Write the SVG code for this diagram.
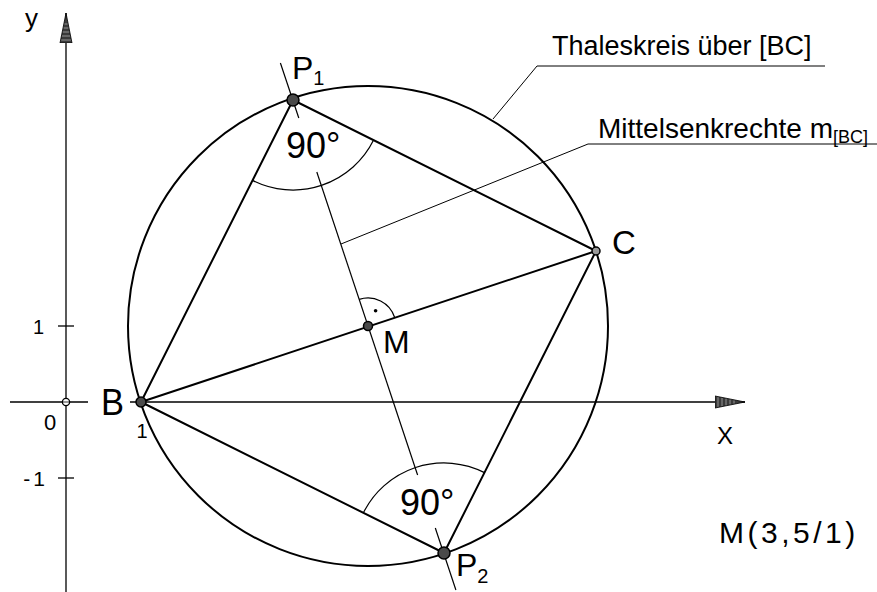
<svg xmlns="http://www.w3.org/2000/svg" width="877" height="592" viewBox="0 0 877 592">
<defs>
<style>
text{font-family:"Liberation Sans",Arial,sans-serif;fill:#000}
.thick{stroke:#000;stroke-width:2;fill:none;stroke-linecap:round}
.thin{stroke:#000;stroke-width:1.2;fill:none}
.axis{stroke:#000;stroke-width:1.3;fill:none}
.lead{stroke:#000;stroke-width:1;fill:none}
.pt{fill:#4a4a4a;stroke:#000;stroke-width:1.5}
.hp{fill:#fff;stroke:#000;stroke-width:1.3}
</style>
<marker id="arr" markerUnits="userSpaceOnUse" markerWidth="32" markerHeight="14" refX="30" refY="7" orient="auto" viewBox="0 0 32 14">
<path d="M0,1 L30,7 L0,13 Z" fill="#3a3a3a" stroke="#000" stroke-width="0.8"/>
<path d="M3,2.2V11.8M7,3V11M11,3.8V10.2M15,4.6V9.4M19,5.4V8.6" stroke="#bbb" stroke-width="0.7"/>
</marker>
</defs>
<rect width="877" height="592" fill="#fff"/>

<g id="axes">
<line class="axis" x1="66" y1="592" x2="66" y2="13" marker-end="url(#arr)"/>
<line class="axis" x1="10" y1="402" x2="88" y2="402"/>
<line class="axis" x1="130" y1="402" x2="745" y2="402" marker-end="url(#arr)"/>
<line class="axis" x1="58" y1="326" x2="74" y2="326"/>
<line class="axis" x1="58" y1="478" x2="74" y2="478"/>
<text x="25" y="27" font-size="26">y</text>
<text x="717" y="444" font-size="24">X</text>
<text x="44" y="334" font-size="20" text-anchor="end">1</text>
<text x="44" y="430" font-size="22">0</text>
<text x="48" y="486" font-size="21" text-anchor="end" letter-spacing="3">-1</text>
<text x="142" y="438" font-size="20" text-anchor="middle">1</text>
</g>

<g id="thaleskreis">
<circle class="thick" cx="368" cy="326" r="240"/>
</g>

<g id="connectors">
<line class="thick" x1="141" y1="402" x2="293" y2="100"/>
<line class="thick" x1="293" y1="100" x2="596" y2="251"/>
<line class="thick" x1="596" y1="251" x2="444" y2="553"/>
<line class="thick" x1="444" y1="553" x2="141" y2="402"/>
<line class="thick" x1="141" y1="402" x2="596" y2="251"/>
<g id="mittelsenkrechte">
<line class="thin" x1="280.4" y1="63" x2="298.8" y2="118"/>
<line class="thin" x1="316.8" y1="172" x2="417.6" y2="475"/>
<line class="thin" x1="435.3" y1="528" x2="455.9" y2="590"/>
</g>
<path class="thin" d="M252.5,180.4 A90,90 0 0 0 373.6,140.1"/>
<path class="thin" d="M363.4,512.8 A90,90 0 0 1 484.5,472.6"/>
<path class="thin" d="M359.2,299.4 A28,28 0 0 1 394.6,317.3"/>
<circle cx="375.6" cy="310.8" r="1.8" fill="#000"/>
<polyline class="lead" points="493,119 537,66 825,66"/>
<polyline class="lead" points="341,244 588,144 877,144"/>
</g>

<g id="O"><circle class="hp" cx="66" cy="402" r="3.6"/><line x1="62.5" y1="402" x2="69.5" y2="402" stroke="#000" stroke-width="0.8"/></g>
<g id="B"><circle class="pt" cx="141" cy="402" r="5"/><text x="101" y="415" font-size="36" textLength="23" lengthAdjust="spacingAndGlyphs">B</text></g>
<g id="P1"><circle class="pt" cx="293" cy="100" r="6"/><text x="292" y="79" font-size="32">P<tspan font-size="20" dy="6">1</tspan></text></g>
<g id="C"><circle cx="596" cy="251" r="4" fill="#999" stroke="#000" stroke-width="1.5"/><text x="612" y="254" font-size="33">C</text></g>
<g id="M"><circle class="pt" cx="368" cy="326" r="4.5"/><text x="383" y="353" font-size="32">M</text></g>
<g id="P2"><circle class="pt" cx="444" cy="553" r="6"/><text x="456" y="576" font-size="32">P<tspan font-size="20" dy="7">2</tspan></text></g>

<g id="labels">
<text x="286" y="158" font-size="36">90°</text>
<text x="400" y="515" font-size="36">90°</text>
<text x="552" y="55" font-size="27">Thaleskreis über [BC]</text>
<text x="598" y="138" font-size="28">Mittelsenkrechte m<tspan font-size="18" dy="5">[BC]</tspan></text>
<text x="719" y="543" font-size="30" letter-spacing="3.5">M(3,5/1)</text>
</g>
</svg>
